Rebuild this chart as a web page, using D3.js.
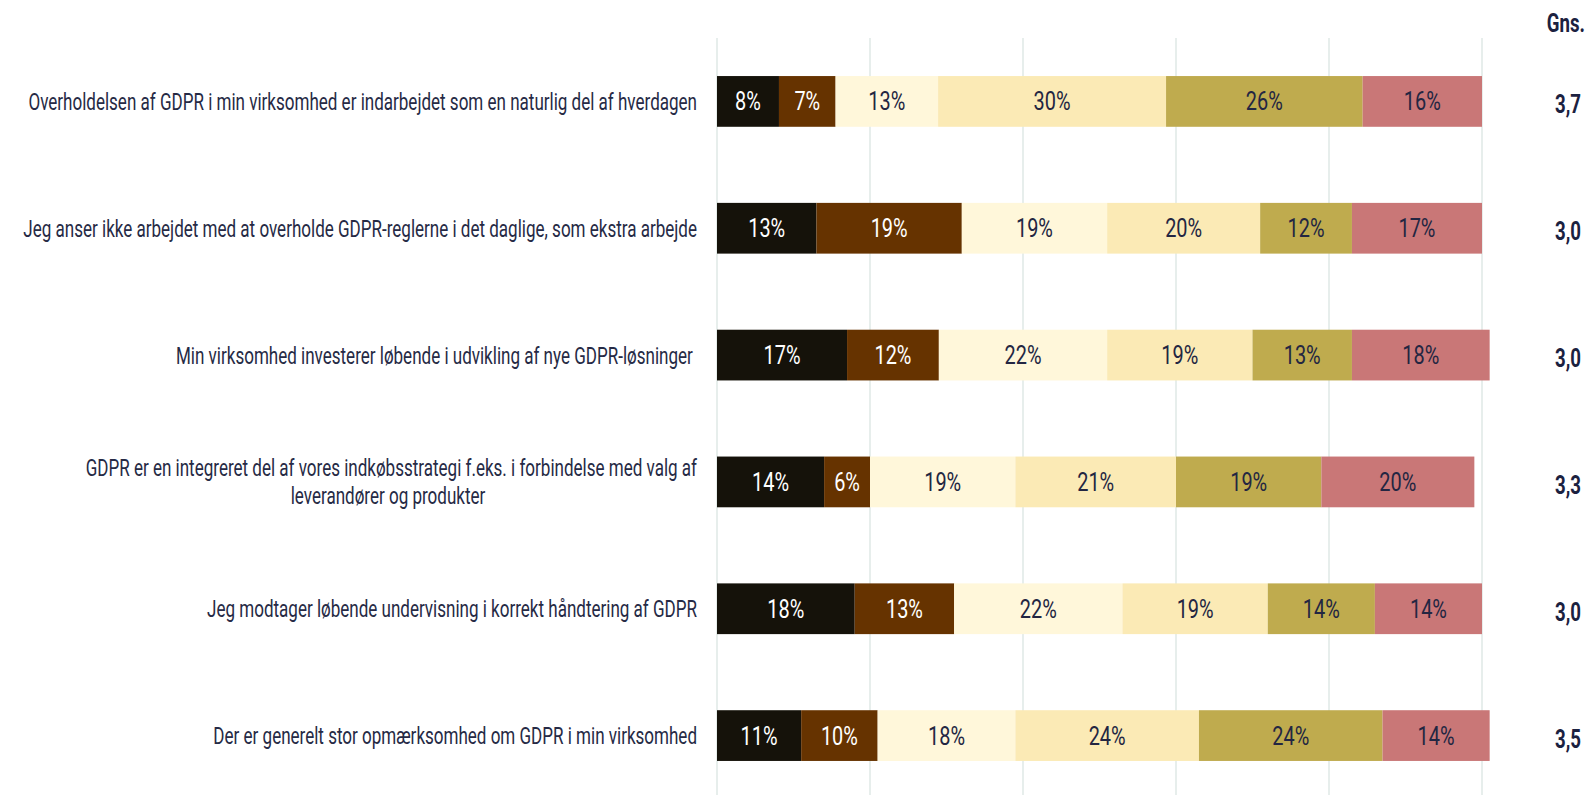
<!DOCTYPE html>
<html><head><meta charset="utf-8">
<script src="https://cdn.jsdelivr.net/npm/d3@7"></script>
<style>
html,body{margin:0;padding:0;background:#fff;overflow:hidden;}
text{white-space:pre;}
</style></head>
<body><svg id="chart" width="1587" height="795"></svg>
<script>
// ---- data ----
const categories = [
  "Overholdelsen af GDPR i min virksomhed er indarbejdet som en naturlig del af hverdagen",
  "Jeg anser ikke arbejdet med at overholde GDPR-reglerne i det daglige, som ekstra arbejde",
  "Min virksomhed investerer løbende i udvikling af nye GDPR-løsninger ",
  "GDPR er en integreret del af vores indkøbsstrategi f.eks. i forbindelse med valg af|leverandører og produkter",
  "Jeg modtager løbende undervisning i korrekt håndtering af GDPR",
  "Der er generelt stor opmærksomhed om GDPR i min virksomhed"
];
const seriesNames = ["Helt uenig","Delvist uenig","Hverken enig eller uenig","Delvist enig","Helt enig","Ved ikke"];
const heltUenig    = [8.1, 13, 17, 14, 18, 11];
const delvistUenig = [7.4, 19, 12,  6, 13, 10];
const hverken      = [13.4,19, 22, 19, 22, 18];
const delvistEnig  = [29.8,20, 19, 21, 19, 24];
const heltEnig     = [25.7,12, 13, 19, 14, 24];
const vedIkke      = [15.6,17, 18, 20, 14, 14];
const gns = ["3,7","3,0","3,0","3,3","3,0","3,5"];
const xTicks = [0,20,40,60,80,100];
const gnsHeader = "Gns.";

const colors = ["#15120a","#663300","#fff7da","#fbeab5","#bfab4e","#c97777"];
const textColors = ["#ffffff","#ffffff","#232642","#232642","#232642","#232642"];
const labelColor = "#262a45";
const font = "Roboto, 'Liberation Sans', sans-serif";

const series = [heltUenig, delvistUenig, hverken, delvistEnig, heltEnig, vedIkke];
const rows = categories.map((c,i)=>({cat:c, vals: series.map(s=>s[i]), gns: gns[i]}));

const svg = d3.select("#chart");
const x = d3.scaleLinear().domain([0,100]).range([717,1482]);
const y = d3.scaleBand().domain(categories).range([38,799]).paddingInner(0.6).paddingOuter(0.3);

// helper to compute horizontal squeeze factor
function fitScale(str, size, weight, target){
  const t = svg.append("text").attr("font-family",font).attr("font-size",size).attr("font-weight",weight).text(str);
  const w = t.node().getComputedTextLength(); t.remove();
  return target / w;
}
const sxLabel = fitScale(categories[0], 24, 400, 669);
const sxPct = fitScale("30%", 26, 400, 37);
const sxGns = fitScale("3,0", 25, 700, 26);

// gridlines
svg.append("g").selectAll("line").data(xTicks).join("line")
  .attr("x1",d=>x(d)).attr("x2",d=>x(d)).attr("y1",38).attr("y2",799)
  .attr("stroke","#dfe9e6").attr("stroke-width",1.5);

// bars
const rowG = svg.append("g").selectAll("g").data(rows).join("g");
rowG.each(function(r){
  const g = d3.select(this);
  let acc = 0;
  const segs = r.vals.map((v,k)=>{ const s={v,k,x0:acc,x1:acc+v}; acc+=v; return s; });
  g.selectAll("rect").data(segs).join("rect")
    .attr("x",d=>x(d.x0)).attr("width",d=>x(d.x1)-x(d.x0))
    .attr("y",y(r.cat)).attr("height",y.bandwidth())
    .attr("fill",d=>colors[d.k]);
  const cy = y(r.cat)+y.bandwidth()/2;
  g.selectAll("g.pl").data(segs).join("g").attr("class","pl")
    .attr("transform",d=>`translate(${(x(d.x0)+x(d.x1))/2},${cy+9})`)
    .append("text").attr("transform",`scale(${sxPct},1)`)
    .attr("text-anchor","middle").attr("font-family",font).attr("font-size",26)
    .attr("fill",d=>textColors[d.k]).text(d=>d3.format(".0f")(d.v)+"%");
  // category label
  const lines = r.cat.split("|");
  if(lines.length===1){
    g.append("g").attr("transform",`translate(697,${cy+8.5})`)
      .append("text").attr("transform",`scale(${sxLabel},1)`)
      .attr("font-family",font).attr("font-size",24).attr("fill",labelColor)
      .attr("text-anchor","end").text(lines[0]);
  } else {
    g.append("g").attr("transform",`translate(697,${cy-6})`)
      .append("text").attr("transform",`scale(${sxLabel},1)`)
      .attr("font-family",font).attr("font-size",24).attr("fill",labelColor)
      .attr("text-anchor","end").text(lines[0]);
    g.append("g").attr("transform",`translate(388,${cy+22})`)
      .append("text").attr("transform",`scale(${sxLabel},1)`)
      .attr("font-family",font).attr("font-size",24).attr("fill",labelColor)
      .attr("text-anchor","middle").text(lines[1]);
  }
  // Gns value
  g.append("g").attr("transform",`translate(1581,${cy+12})`)
    .append("text").attr("transform",`scale(${sxGns},1)`)
    .attr("text-anchor","end").attr("font-family",font).attr("font-size",25).attr("font-weight",700)
    .attr("fill","#1b2140").text(r.gns);
});

// header
svg.append("g").attr("transform","translate(1585,32)")
  .append("text").attr("transform",`scale(${sxGns},1)`)
  .attr("text-anchor","end").attr("font-family",font).attr("font-size",25).attr("font-weight",700)
  .attr("fill","#1b2140").text(gnsHeader);
</script></body></html>
